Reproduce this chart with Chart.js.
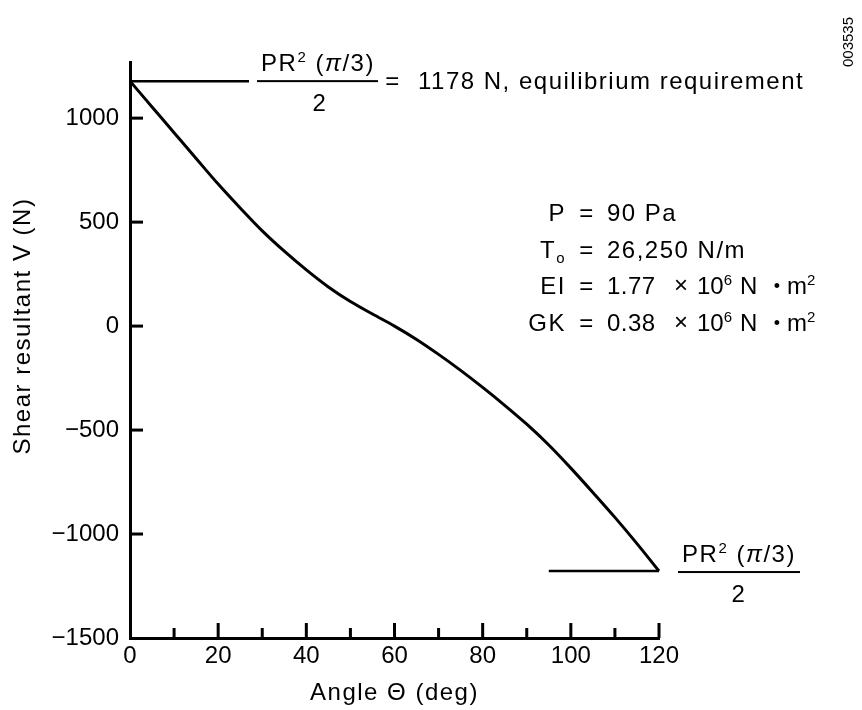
<!DOCTYPE html>
<html>
<head>
<meta charset="utf-8">
<script src="https://cdn.jsdelivr.net/npm/chart.js@4.4.1/dist/chart.umd.min.js"></script>
<style>
  html, body { margin: 0; padding: 0; background: #fff; }
  #wrap { width: 862px; height: 710px; }
</style>
</head>
<body>
<div id="wrap"><canvas id="chart" width="862" height="710"></canvas></div>
<script>
// ---------------------------------------------------------------------------
// Data
// ---------------------------------------------------------------------------

const angleDeg = [0, 5, 10, 15, 20, 25, 30, 35, 40, 45, 50, 55, 60,
                  65, 70, 75, 80, 85, 90, 95, 100, 105, 110, 115, 120];
const shearN = [1178, 1054, 930, 806, 683, 568, 458, 360, 270, 188, 118, 58, 0,
                -64, -136, -213, -295, -381, -472, -572, -683, -800, -920, -1046, -1178];

// equilibrium requirement lines, +/- PR^2 (pi/3) / 2
const topRefX = [0, 27];
const topRefY = [1178, 1178];
const bottomRefX = [95, 120];
const bottomRefY = [-1178, -1178];

const xTickValues = [0, 10, 20, 30, 40, 50, 60, 70, 80, 90, 100, 110, 120];
const yTickValues = [-1500, -1000, -500, 0, 500, 1000];

const FONT = '"Liberation Sans", Arial, Helvetica, sans-serif';

function toPoints(xs, ys) {
    return xs.map((x, i) => ({ x: x, y: ys[i] }));
}

// ---------------------------------------------------------------------------
// Text helpers
// ---------------------------------------------------------------------------

// parts: [text, kind] with kind '', 'sup', 'sub', 'it' or 'dot'
function partFont(kind) {
    if (kind === "sup" || kind === "sub") return "15px " + FONT;
    if (kind === "it") return "italic 24px " + FONT;
    if (kind === "dot") return "18px " + FONT;
    return "24px " + FONT;
}

function richWidth(ctx, parts) {
    let w = 0;
    parts.forEach((p) => {
        ctx.font = partFont(p[1]);
        w += ctx.measureText(p[0]).width;
    });
    return w;
}

function drawRich(ctx, parts, x, y, align) {
    const w = richWidth(ctx, parts);
    let cx = align === "center" ? x - w / 2 : align === "right" ? x - w : x;
    ctx.textAlign = "left";
    ctx.textBaseline = "alphabetic";
    parts.forEach((p) => {
        ctx.font = partFont(p[1]);
        let dy = 0;
        if (p[1] === "sup") dy = -9;
        if (p[1] === "sub") dy = 5;
        if (p[1] === "dot") dy = -2;
        ctx.fillText(p[0], cx, y + dy);
        cx += ctx.measureText(p[0]).width;
    });
}

// ---------------------------------------------------------------------------
// Plugin: inward tick marks, tick labels on y, axis titles and annotations
// ---------------------------------------------------------------------------

const decorations = {
    id: "decorations",
    afterDraw(chart) {
        const ctx = chart.ctx;
        const xs = chart.scales.x;
        const ys = chart.scales.y;
        const x0 = xs.getPixelForValue(0);
        const yBottom = ys.getPixelForValue(-1500);

        ctx.save();
        ctx.strokeStyle = "#000";
        ctx.fillStyle = "#000";

        // x ticks point up, minor ones shorter
        xTickValues.forEach((v) => {
            if (v === 0) return;
            const px = xs.getPixelForValue(v);
            const len = v % 20 === 0 ? 15 : 10;
            ctx.fillRect(px - 1.5, yBottom - len, 3, len);
        });

        // y ticks point right
        yTickValues.forEach((v) => {
            if (v === -1500) return;
            const py = ys.getPixelForValue(v);
            ctx.fillRect(x0, py - 1.5, 13, 3);
        });

        // y tick labels
        ctx.font = "24px " + FONT;
        ctx.textAlign = "right";
        ctx.textBaseline = "middle";
        yTickValues.forEach((v) => {
            ctx.fillText(String(v).replace("-", "\u2212"), x0 - 11, ys.getPixelForValue(v));
        });

        ctx.letterSpacing = "1.5px";

        // axis titles
        ctx.textAlign = "center";
        ctx.fillText("Angle \u0398 (deg)", (xs.left + xs.right) / 2, 693);

        ctx.save();
        ctx.translate(23, ys.getPixelForValue(0));
        ctx.rotate(-Math.PI / 2);
        ctx.fillText("Shear resultant V (N)", 0, 0);
        ctx.restore();

        const frac = [["PR", ""], ["2", "sup"], [" (", ""], ["\u03c0", "it"], ["/3)", ""]];

        // top fraction and equilibrium note
        const yTop = ys.getPixelForValue(1178);
        ctx.fillRect(257, yTop - 1, 121, 2);
        drawRich(ctx, frac, 318, yTop - 10, "center");
        drawRich(ctx, [["2", ""]], 320, yTop + 30, "center");
        drawRich(ctx, [["=", ""]], 393, yTop + 8, "center");
        drawRich(ctx, [["1178 N, equilibrium requirement", ""]], 418, yTop + 8, "left");

        // bottom fraction
        const yBot = ys.getPixelForValue(-1178);
        ctx.fillRect(678, yBot, 122, 2);
        drawRich(ctx, frac, 739, yBot - 9, "center");
        drawRich(ctx, [["2", ""]], 739, yBot + 31, "center");

        // parameter block: label, "=", then value pieces
        const rowY = [221, 258, 294, 331];
        const labels = [
            [["P", ""]],
            [["T", ""], ["o", "sub"]],
            [["EI", ""]],
            [["GK", ""]],
        ];
        labels.forEach((lab, i) => {
            drawRich(ctx, lab, 566, rowY[i], "right");
            drawRich(ctx, [["=", ""]], 587, rowY[i], "center");
        });
        drawRich(ctx, [["90 Pa", ""]], 607, rowY[0], "left");
        drawRich(ctx, [["26,250 N/m", ""]], 607, rowY[1], "left");
        [["1.77", 2], ["0.38", 3]].forEach((item) => {
            const y = rowY[item[1]];
            ctx.letterSpacing = "0.5px";
            drawRich(ctx, [[item[0], ""]], 607, y, "left");
            ctx.letterSpacing = "0px";
            drawRich(ctx, [["\u00d7", ""]], 681, y - 1, "center");
            drawRich(ctx, [["10", ""], ["6", "sup"]], 697, y, "left");
            drawRich(ctx, [["N", ""]], 740, y, "left");
            drawRich(ctx, [["\u2022", "dot"]], 777, y, "center");
            drawRich(ctx, [["m", ""], ["2", "sup"]], 787, y, "left");
        });

        // figure id
        ctx.save();
        ctx.translate(849, 42);
        ctx.rotate(-Math.PI / 2);
        ctx.font = "15px " + FONT;
        ctx.textAlign = "center";
        ctx.textBaseline = "middle";
        ctx.fillText("003535", 0, 0);
        ctx.restore();

        ctx.restore();
    },
};

// ---------------------------------------------------------------------------
// Chart
// ---------------------------------------------------------------------------

const lineStyle = {
    borderColor: "#000",
    backgroundColor: "#000",
    pointRadius: 0,
    fill: false,
    clip: false,
};

const ctx = document.getElementById("chart").getContext("2d");
const shearChart = new Chart(ctx, {
    type: "line",
    data: {
        datasets: [
            Object.assign({ label: "Shear", data: toPoints(angleDeg, shearN), borderWidth: 3,
                            cubicInterpolationMode: "monotone" }, lineStyle),
            Object.assign({ label: "Top", data: toPoints(topRefX, topRefY), borderWidth: 2.5 }, lineStyle),
            Object.assign({ label: "Bottom", data: toPoints(bottomRefX, bottomRefY), borderWidth: 2.5 }, lineStyle),
        ],
    },
    options: {
        responsive: false,
        animation: false,
        layout: { padding: { top: 62, right: 203, left: 0, bottom: 0 } },
        plugins: {
            legend: { display: false },
            tooltip: { enabled: false },
        },
        scales: {
            x: {
                type: "linear",
                min: 0,
                max: 120,
                grid: { display: false, drawTicks: false },
                border: { display: true, color: "#000", width: 3 },
                ticks: {
                    stepSize: 20,
                    autoSkip: false,
                    maxRotation: 0,
                    color: "#000",
                    padding: 4,
                    font: { family: FONT, size: 24 },
                },
                afterFit: (scale) => { scale.height = 72; },
            },
            y: {
                type: "linear",
                min: -1500,
                max: 1270,
                // inward tick marks from the library's own grid (negative length)
                grid: {
                    display: true,
                    drawOnChartArea: false,
                    drawTicks: true,
                    tickLength: -13,
                    tickWidth: 3,
                    tickColor: (c) => (c.tick && c.tick.value % 500 === 0 && c.tick.value > -1500)
                        ? "#000" : "rgba(0,0,0,0)",
                },
                border: { display: true, color: "#000", width: 3 },
                ticks: { display: false, stepSize: 500 },
                afterFit: (scale) => { scale.width = 130; },
            },
        },
    },
    plugins: [decorations],
});
</script>
</body>
</html>
